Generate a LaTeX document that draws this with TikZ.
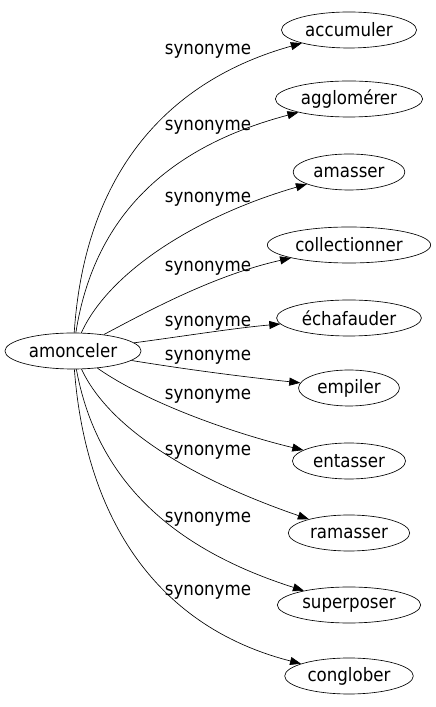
\documentclass[tikz,border=0pt]{standalone}
\usepackage{fontspec}
\setmainfont{DejaVu Sans Condensed}
\usetikzlibrary{shapes.geometric,arrows.meta}
\begin{document}
\begin{tikzpicture}[x=1pt,y=1pt,
  word/.style={draw, ellipse, line width=0.65pt, inner xsep=4pt, inner ysep=0pt, minimum height=36pt, font=\fontsize{18.5}{20}\selectfont},
  lab/.style={font=\fontsize{18.5}{20}\selectfont, inner sep=0pt},
  syn/.style={-{Triangle[length=11pt,width=8pt]}, line width=0.65pt}]
  \useasboundingbox (0,0) rectangle (436,707);
  \node[word] (amonceler) at (73,356) {amonceler};
  \node[word] (accumuler) at (349,677) {accumuler};
  \node[word] (agglomerer) at (349,608) {agglomérer};
  \node[word] (amasser) at (349,535) {amasser};
  \node[word] (collectionner) at (349,462) {collectionner};
  \node[word] (echafauder) at (349,389) {échafauder};
  \node[word] (empiler) at (349,319) {empiler};
  \node[word] (entasser) at (349,246) {entasser};
  \node[word] (ramasser) at (349,174) {ramasser};
  \node[word] (superposer) at (349,102) {superposer};
  \node[word] (conglober) at (349,31) {conglober};
  \foreach \y [count=\i] in {656,580,508,439,384,350,311,255,188,115}
    \node[lab] (syn\i) at (208,\y) {synonyme};
  \draw[syn] (amonceler) .. controls (85,537) and (170,627) .. (accumuler);
  \draw[syn] (amonceler) .. controls (95,497) and (175,562) .. (agglomerer);
  \draw[syn] (amonceler) .. controls (110,437) and (200,492) .. (amasser);
  \draw[syn] (amonceler) .. controls (150,397) and (215,432) .. (collectionner);
  \draw[syn] (amonceler) .. controls (185,371) and (235,379) .. (echafauder);
  \draw[syn] (amonceler) .. controls (190,337) and (245,330) .. (empiler);
  \draw[syn] (amonceler) .. controls (150,302) and (240,272) .. (entasser);
  \draw[syn] (amonceler) .. controls (110,277) and (195,227) .. (ramasser);
  \draw[syn] (amonceler) .. controls (95,237) and (160,162) .. (superposer);
  \draw[syn] (amonceler) .. controls (85,197) and (150,82) .. (conglober);
\end{tikzpicture}
\end{document}
